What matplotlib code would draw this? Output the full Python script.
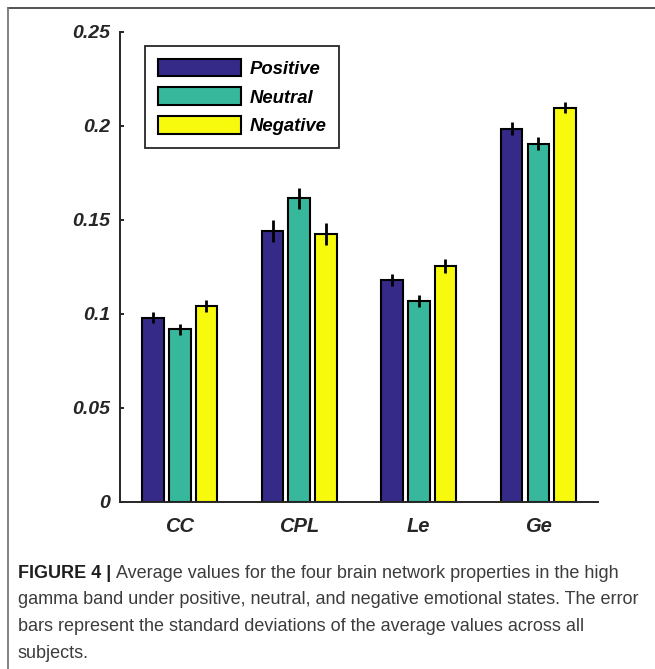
import matplotlib
matplotlib.use("Agg")
import matplotlib.pyplot as plt
import numpy as np

# network properties and the three emotional states
properties = ["CC", "CPL", "Le", "Ge"]
states = ["Positive", "Neutral", "Negative"]

positive = [0.0978, 0.1439, 0.1178, 0.1984]
neutral = [0.0916, 0.1614, 0.1068, 0.1904]
negative = [0.1041, 0.1424, 0.1254, 0.2096]

positive_sd = [0.0029, 0.0057, 0.0032, 0.0034]
neutral_sd = [0.0029, 0.0057, 0.0033, 0.0034]
negative_sd = [0.0030, 0.0057, 0.0035, 0.0030]

yticks = [0, 0.05, 0.1, 0.15, 0.2, 0.25]
ytick_labels = ["0", "0.05", "0.1", "0.15", "0.2", "0.25"]

colors = ["#352a87", "#37b89d", "#f8fa0d"]
axis_color = "#262626"

plt.rcParams["font.family"] = ["Liberation Sans", "DejaVu Sans"]

fig = plt.figure(figsize=(6.55, 6.69), dpi=100)
ax = fig.add_axes([0.1832, 0.2501, 0.7298, 0.7025])

x = np.arange(1, len(properties) + 1)
width = 0.18
step = 0.223

series = [(positive, positive_sd), (neutral, neutral_sd), (negative, negative_sd)]
for i, (vals, sds) in enumerate(series):
    pos = x + (i - 1) * step
    ax.bar(pos, vals, width=width, color=colors[i], edgecolor="black",
           linewidth=1.5, label=states[i], zorder=2)
    ax.errorbar(pos, vals, yerr=sds, fmt="none", ecolor="black",
                elinewidth=2.0, capsize=0, zorder=3)

ax.set_xlim(0.5, 4.5)
ax.set_ylim(0, 0.25)
ax.set_yticks(yticks)
ax.set_yticklabels(ytick_labels)
ax.set_xticks(x)
ax.set_xticklabels(properties)

for side in ["top", "right"]:
    ax.spines[side].set_visible(False)
for side in ["left", "bottom"]:
    ax.spines[side].set_color(axis_color)
    ax.spines[side].set_linewidth(1.4)

ax.tick_params(axis="y", direction="in", length=3, width=1.4,
               color=axis_color, pad=7)
ax.tick_params(axis="x", length=0, pad=11)
for lbl in ax.get_yticklabels() + ax.get_xticklabels():
    lbl.set_fontweight("bold")
    lbl.set_fontstyle("italic")
    lbl.set_color(axis_color)
for lbl in ax.get_yticklabels():
    lbl.set_fontsize(14)
for lbl in ax.get_xticklabels():
    lbl.set_fontsize(14.5)

leg = ax.legend(loc="upper left", bbox_to_anchor=(0.052, 0.97),
                borderaxespad=0, fancybox=False, framealpha=1,
                edgecolor=axis_color, handlelength=4.5, handleheight=1.1,
                handletextpad=0.45, labelspacing=0.52, borderpad=0.7,
                prop={"weight": "bold", "style": "italic", "size": 13.3})
leg.get_frame().set_linewidth(1.3)
for patch in leg.get_patches():
    patch.set_linewidth(1.5)

# outer frame lines at the top and left
fig.add_artist(plt.Line2D([7.5 / 655, 1], [1 - 7.5 / 669, 1 - 7.5 / 669],
                          transform=fig.transFigure, color="#444444", lw=1.3))
fig.add_artist(plt.Line2D([7.5 / 655, 7.5 / 655], [0, 1 - 7.5 / 669],
                          transform=fig.transFigure, color="#777777", lw=1.3))

caption_lines = [
    "Average values for the four brain network properties in the high",
    "gamma band under positive, neutral, and negative emotional states. The error",
    "bars represent the standard deviations of the average values across all",
    "subjects.",
]
caption_color = "#3c3c3c"
cap_size = 13
y0 = 1 - 573 / 669
dy = 26.7 / 669
head = fig.text(18 / 655, y0, "FIGURE 4 | ", fontsize=cap_size,
                fontweight="bold", color="#1e1e1e", va="center")
fig.canvas.draw()
bb = head.get_window_extent()
fig.text(bb.x1 / fig.bbox.width, y0, caption_lines[0], fontsize=cap_size,
         color=caption_color, va="center")
for k, line in enumerate(caption_lines[1:], start=1):
    fig.text(18 / 655, y0 - k * dy, line, fontsize=cap_size,
             color=caption_color, va="center")

fig.savefig("out.png", dpi=100)
